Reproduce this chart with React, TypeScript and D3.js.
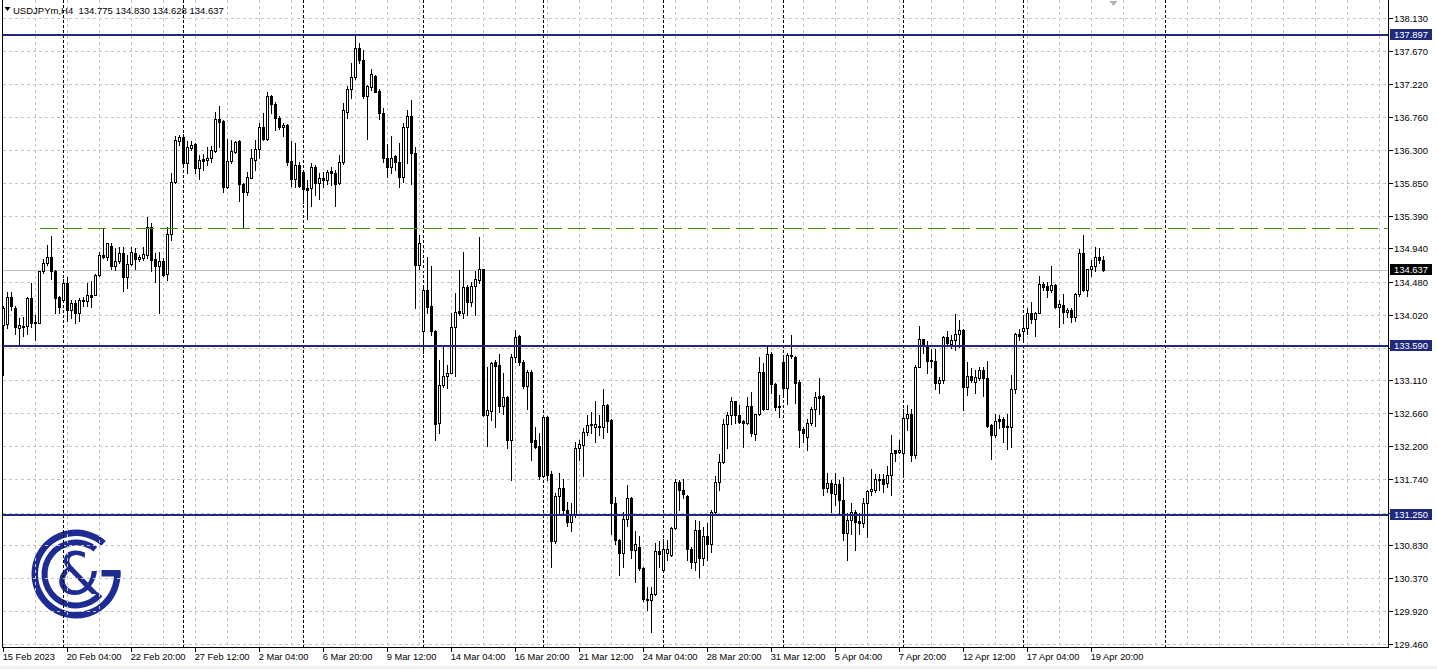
import React from 'react';
import * as d3 from 'd3';

// USDJPYm H4 candles, 15 Feb 2023 12:00 .. 20 Apr 2023 08:00
const opens = [
  133.88, 133.89, 134.27, 134.12, 133.83, 133.87, 133.86, 134.25, 133.92, 133.91,
  134.62, 134.73, 134.82, 134.62, 134.26, 134.23, 134.46, 134.09, 134.18, 134.04,
  134.22, 134.21, 134.29, 134.30, 134.57, 134.85, 134.82, 134.97, 134.69, 134.76,
  134.88, 134.54, 134.72, 134.87, 134.79, 134.81, 134.85, 135.24, 134.79, 134.69,
  134.76, 134.58, 135.14, 135.86, 136.43, 136.48, 136.12, 136.33, 136.38, 136.05,
  136.18, 136.16, 136.19, 136.29, 136.73, 136.70, 135.79, 136.15, 136.28, 136.42,
  135.83, 135.72, 135.92, 136.16, 136.31, 136.62, 136.45, 137.05, 136.94, 136.75,
  136.62, 136.65, 136.15, 135.90, 136.09, 136.00, 135.77, 135.77, 136.07, 135.85,
  135.92, 135.89, 136.01, 135.98, 135.84, 136.13, 136.83, 137.14, 137.31, 137.71,
  137.55, 137.05, 137.18, 137.33, 137.12, 136.81, 136.19, 136.07, 136.22, 136.13,
  135.93, 136.62, 136.77, 136.26, 134.71, 133.80, 134.36, 134.14, 133.79, 132.52,
  133.05, 133.17, 133.22, 133.85, 134.07, 134.04, 134.40, 134.19, 134.42, 134.50,
  134.65, 132.63, 132.69, 133.36, 133.32, 132.75, 132.88, 132.29, 133.43, 133.72,
  133.37, 133.03, 133.23, 132.28, 132.20, 131.79, 132.61, 131.81, 130.88, 131.51,
  131.62, 131.31, 131.15, 131.25, 132.17, 132.22, 132.39, 132.49, 132.47, 132.48,
  132.47, 132.77, 132.56, 131.41, 130.90, 130.72, 131.19, 131.48, 130.76, 130.80,
  130.51, 130.09, 130.07, 130.15, 130.75, 130.49, 130.72, 130.69, 131.06, 131.71,
  131.59, 131.51, 130.78, 130.60, 131.04, 130.65, 130.95, 130.84, 131.29, 131.71,
  131.98, 132.51, 132.63, 132.82, 132.63, 132.55, 132.52, 132.76, 132.37, 132.64,
  133.23, 132.72, 133.48, 133.06, 132.76, 133.36, 133.01, 133.45, 133.44, 133.09,
  132.44, 132.33, 132.52, 132.72, 132.89, 132.89, 131.62, 131.69, 131.54, 131.68,
  131.46, 131.00, 131.18, 131.29, 131.17, 131.14, 131.41, 131.58, 131.59, 131.75,
  131.74, 131.69, 131.80, 132.14, 132.12, 132.11, 132.59, 132.64, 132.08, 133.30,
  133.68, 133.59, 133.38, 133.38, 133.08, 133.12, 133.71, 133.62, 133.67, 133.75,
  133.81, 133.02, 133.17, 133.09, 133.14, 133.25, 133.14, 132.49, 132.35, 132.57,
  132.57, 132.48, 132.47, 132.99, 133.76, 133.79, 133.83, 134.04, 133.96, 134.05,
  134.45, 134.42, 134.36, 134.43, 134.13, 134.15, 134.06, 134.09, 133.99, 134.31,
  134.88, 134.36, 134.65, 134.69, 134.82, 134.775,
];

const highs = [
  134.14, 134.34, 134.34, 134.14, 133.97, 133.99, 134.26, 134.46, 134.02, 134.63,
  134.79, 134.99, 135.11, 134.64, 134.28, 134.51, 134.54, 134.22, 134.22, 134.25,
  134.26, 134.46, 134.49, 134.58, 134.89, 135.22, 135.02, 135.01, 134.94, 134.96,
  134.96, 134.85, 134.96, 134.94, 134.85, 134.96, 135.38, 135.29, 134.87, 134.89,
  134.80, 135.24, 135.98, 136.49, 136.51, 136.52, 136.43, 136.42, 136.40, 136.23,
  136.25, 136.35, 136.36, 136.83, 136.91, 136.72, 136.46, 136.44, 136.43, 136.44,
  135.84, 136.00, 136.31, 136.44, 136.67, 136.81, 137.10, 137.06, 136.97, 136.77,
  136.67, 136.66, 136.42, 136.40, 136.14, 136.02, 135.89, 136.12, 136.09, 135.98,
  136.00, 136.03, 136.06, 136.02, 136.23, 136.95, 137.19, 137.50, 137.89, 137.78,
  137.68, 137.20, 137.43, 137.34, 137.14, 136.88, 136.39, 136.49, 136.23, 136.40,
  136.67, 136.86, 136.99, 136.35, 135.12, 134.39, 134.82, 134.69, 133.81, 133.39,
  133.60, 133.32, 134.04, 134.32, 134.64, 134.89, 134.43, 134.48, 134.62, 135.10,
  134.66, 133.30, 133.37, 133.39, 133.48, 133.22, 132.89, 133.48, 133.81, 133.74,
  133.39, 133.25, 133.26, 132.47, 132.38, 132.63, 132.62, 131.85, 131.55, 131.83,
  131.74, 131.42, 131.41, 132.26, 132.28, 132.45, 132.63, 132.68, 132.82, 132.63,
  132.99, 132.79, 132.57, 131.50, 130.92, 131.29, 131.66, 131.50, 131.02, 130.95,
  130.53, 130.25, 130.25, 130.86, 130.88, 130.92, 130.90, 131.08, 131.75, 131.73,
  131.75, 131.52, 130.81, 131.18, 131.17, 131.08, 131.13, 131.31, 131.79, 132.09,
  132.57, 132.68, 132.88, 132.83, 132.77, 132.56, 132.88, 132.95, 132.65, 133.44,
  133.35, 133.60, 133.51, 133.08, 132.91, 133.42, 133.49, 133.74, 133.45, 133.12,
  132.47, 132.58, 132.74, 132.95, 133.15, 132.91, 131.83, 131.73, 131.83, 131.73,
  131.77, 131.27, 131.41, 131.31, 131.28, 131.48, 131.59, 131.89, 131.82, 131.82,
  131.81, 131.92, 132.35, 132.15, 132.28, 132.72, 132.77, 132.72, 133.32, 133.86,
  133.69, 133.65, 133.55, 133.55, 133.16, 133.72, 133.79, 133.74, 134.03, 133.95,
  133.82, 133.37, 133.28, 133.25, 133.30, 133.30, 133.38, 132.51, 132.65, 132.63,
  132.61, 132.65, 133.19, 133.77, 133.82, 134.02, 134.12, 134.20, 134.06, 134.56,
  134.48, 134.48, 134.70, 134.45, 134.23, 134.31, 134.12, 134.12, 134.32, 134.93,
  135.12, 134.66, 134.78, 134.96, 134.94, 134.83,
];

const lows = [
  133.19, 133.83, 134.09, 133.76, 133.59, 133.72, 133.75, 133.85, 133.67, 133.90,
  134.60, 134.71, 134.52, 134.05, 134.05, 134.22, 133.94, 133.98, 133.90, 133.94,
  134.14, 134.14, 134.13, 134.29, 134.56, 134.80, 134.78, 134.66, 134.64, 134.73,
  134.35, 134.39, 134.71, 134.66, 134.76, 134.78, 134.80, 134.62, 134.48, 134.04,
  134.55, 134.50, 135.06, 135.85, 136.37, 136.06, 135.99, 136.30, 135.98, 135.90,
  136.03, 136.09, 136.14, 136.28, 136.35, 135.72, 135.77, 136.12, 136.26, 135.59,
  135.24, 135.68, 135.91, 136.02, 136.19, 136.44, 136.44, 136.81, 136.58, 136.59,
  136.49, 136.09, 135.80, 135.79, 135.79, 135.57, 135.35, 135.52, 135.68, 135.63,
  135.79, 135.83, 135.82, 135.52, 135.83, 136.11, 136.75, 137.02, 137.28, 137.50,
  137.02, 136.46, 137.13, 137.10, 136.73, 136.14, 135.93, 135.98, 136.02, 135.79,
  135.86, 136.12, 135.83, 134.12, 134.65, 133.49, 134.04, 133.74, 132.29, 132.38,
  133.02, 133.00, 133.21, 133.17, 134.02, 133.97, 134.02, 134.14, 134.02, 134.46,
  132.62, 132.20, 132.56, 132.47, 132.68, 132.65, 132.17, 131.73, 133.36, 133.32,
  133.00, 132.72, 132.01, 132.17, 131.75, 131.77, 131.73, 130.52, 130.86, 131.27,
  131.25, 131.09, 131.02, 131.22, 132.01, 131.78, 132.35, 132.38, 132.26, 132.35,
  132.31, 132.40, 130.99, 130.85, 130.42, 130.53, 131.09, 130.65, 130.32, 130.48,
  130.05, 129.93, 129.63, 130.14, 130.53, 130.48, 130.62, 130.68, 131.05, 131.32,
  131.48, 130.62, 130.51, 130.48, 130.39, 130.55, 130.62, 130.74, 131.28, 131.59,
  131.96, 132.18, 132.51, 132.52, 132.52, 132.19, 132.51, 132.34, 132.28, 132.63,
  132.70, 132.71, 132.94, 132.70, 132.60, 132.90, 132.78, 133.42, 132.80, 132.19,
  132.26, 132.15, 132.49, 132.48, 132.65, 131.52, 131.57, 131.29, 131.39, 131.25,
  130.90, 130.62, 130.99, 130.76, 130.99, 131.08, 130.94, 131.52, 131.56, 131.59,
  131.56, 131.64, 131.52, 131.99, 132.10, 131.80, 132.43, 131.99, 132.03, 133.29,
  133.49, 133.22, 133.29, 132.99, 132.94, 133.07, 133.59, 133.56, 133.53, 133.58,
  132.70, 132.91, 133.09, 132.93, 133.12, 132.89, 132.47, 132.02, 132.33, 132.45,
  132.26, 132.16, 132.19, 132.93, 133.67, 133.67, 133.76, 133.90, 133.72, 134.04,
  134.36, 134.26, 134.34, 134.12, 133.85, 133.90, 133.99, 133.92, 133.94, 134.28,
  134.35, 134.28, 134.56, 134.62, 134.74, 134.628,
];

const closes = [
  134.12, 134.27, 134.14, 133.85, 133.88, 133.85, 134.25, 133.90, 133.90, 134.62,
  134.73, 134.82, 134.62, 134.25, 134.13, 134.46, 134.09, 134.18, 134.04, 134.22,
  134.21, 134.29, 134.27, 134.57, 134.85, 134.82, 135.01, 134.69, 134.76, 134.88,
  134.54, 134.72, 134.89, 134.79, 134.82, 134.86, 135.24, 134.78, 134.69, 134.76,
  134.57, 135.14, 135.86, 136.44, 136.48, 136.12, 136.34, 136.37, 136.05, 136.17,
  136.15, 136.19, 136.30, 136.73, 136.69, 135.79, 136.15, 136.29, 136.41, 135.83,
  135.72, 135.93, 136.19, 136.31, 136.62, 136.45, 137.05, 136.94, 136.75, 136.62,
  136.65, 136.14, 135.90, 136.09, 135.81, 135.76, 135.75, 136.07, 135.85, 135.91,
  135.89, 136.00, 135.98, 135.83, 136.13, 136.86, 137.14, 137.31, 137.71, 137.55,
  137.05, 137.19, 137.35, 137.11, 136.81, 136.19, 136.07, 136.19, 136.13, 135.93,
  136.62, 136.77, 136.26, 134.71, 135.02, 134.36, 134.13, 133.79, 132.51, 133.05,
  133.17, 133.22, 133.85, 134.06, 134.04, 134.40, 134.19, 134.42, 134.52, 134.65,
  132.63, 132.70, 133.35, 133.31, 132.75, 132.88, 132.29, 133.43, 133.71, 133.37,
  133.03, 133.23, 132.26, 132.19, 131.79, 132.61, 131.80, 130.88, 131.51, 131.62,
  131.31, 131.15, 131.25, 132.17, 132.23, 132.39, 132.49, 132.51, 132.51, 132.46,
  132.77, 132.55, 131.41, 130.90, 130.72, 131.19, 131.48, 130.76, 130.84, 130.51,
  130.09, 130.07, 130.15, 130.75, 130.71, 130.77, 130.78, 131.06, 131.71, 131.59,
  131.54, 130.78, 130.60, 131.04, 130.65, 130.95, 130.84, 131.29, 131.71, 131.98,
  132.51, 132.63, 132.82, 132.63, 132.54, 132.52, 132.76, 132.38, 132.64, 133.23,
  132.72, 133.48, 133.06, 132.74, 132.74, 133.01, 133.46, 133.46, 133.08, 132.43,
  132.38, 132.52, 132.72, 132.88, 132.87, 131.62, 131.69, 131.55, 131.68, 131.46,
  131.00, 131.18, 131.29, 131.15, 131.14, 131.41, 131.58, 131.60, 131.75, 131.73,
  131.68, 131.80, 132.11, 132.11, 132.14, 132.59, 132.64, 132.08, 133.30, 133.68,
  133.59, 133.38, 133.39, 133.08, 133.12, 133.71, 133.63, 133.67, 133.75, 133.81,
  133.02, 133.17, 133.11, 133.16, 133.25, 133.14, 132.48, 132.35, 132.55, 132.55,
  132.46, 132.46, 132.99, 133.76, 133.72, 133.83, 134.04, 133.96, 134.05, 134.45,
  134.41, 134.36, 134.43, 134.13, 134.17, 134.06, 134.09, 133.99, 134.31, 134.88,
  134.36, 134.65, 134.69, 134.82, 134.775, 134.637,
];

const priceTicks = [
  138.13, 137.67, 137.22, 136.76, 136.3, 135.85, 135.39, 134.94, 134.48, 134.02,
  133.56, 133.11, 132.66, 132.2, 131.74, 131.28, 130.83, 130.37, 129.92, 129.46,
];

// one label every 16 bars, starting at bar 0
const timeLabels = [
  '15 Feb 2023', '20 Feb 04:00', '22 Feb 20:00', '27 Feb 12:00', '2 Mar 04:00',
  '6 Mar 20:00', '9 Mar 12:00', '14 Mar 04:00', '16 Mar 20:00', '21 Mar 12:00',
  '24 Mar 04:00', '28 Mar 20:00', '31 Mar 12:00', '5 Apr 04:00', '7 Apr 20:00',
  '12 Apr 12:00', '17 Apr 04:00', '19 Apr 20:00',
];

const weekSeparators = [15, 45, 75, 105, 135, 165, 195, 225, 255, 290.5];
const levelLines = [137.897, 133.59, 131.25];
const dashedLevel = 135.22;
const dashedFromBar = 9;
const bid = 134.637;
const header = 'USDJPYm,H4  134.775 134.830 134.628 134.637';

const FONT = '"Liberation Sans", Arial, sans-serif';
const NAVY = '#1f2a7c';
const LOGO = '#1e2b92';
const GRID = '#c4c4c4';

export default function App() {
  const width = 1437, height = 669;
  const right = 1388.5, bottom = 647.5;
  const n = closes.length;

  const x = d3.scaleLinear().domain([0, n - 1]).range([3.5, 3.5 + 4 * (n - 1)]);
  const y = d3.scaleLinear().domain([129.46, 138.13]).range([644, 18]);
  const sy = (v: number) => Math.round(y(v)) + 0.5;

  const gridBars = d3.range(8, 400, 8).filter(b => x(b) < right - 4);
  const labelBars = timeLabels.map((_, i) => i * 16);
  // tick labels hidden behind a level box are not printed
  const boxed = [...levelLines, bid];
  const shownTicks = priceTicks.filter(t => boxed.every(b => Math.abs(y(t) - y(b)) > 9));

  const rad = (d: number) => (d * Math.PI) / 180;
  const arc = d3.arc<any>();
  const outerG = arc({ innerRadius: 38, outerRadius: 44.5, startAngle: rad(87), endAngle: rad(402) });
  const innerC = arc({ innerRadius: 28.5, outerRadius: 34.5, startAngle: rad(130), endAngle: rad(398) });

  const candles = closes.map((c, i) => {
    const o = opens[i];
    const cx = x(i);
    const yHi = Math.round(y(highs[i]));
    const yLo = Math.round(y(lows[i]));
    const yTop = Math.round(y(Math.max(o, c)));
    const yBot = Math.round(y(Math.min(o, c)));
    const h = yBot - yTop;
    let body;
    if (h < 1) {
      body = <line x1={cx - 1.5} x2={cx + 1.5} y1={yTop + 0.5} y2={yTop + 0.5} stroke="#000" />;
    } else if (c >= o) {
      body = <rect x={cx - 1} y={yTop + 0.5} width={2} height={h} fill="#fff" stroke="#000" />;
    } else {
      body = <rect x={cx - 1.5} y={yTop} width={3} height={h + 1} fill="#000" />;
    }
    return (
      <g key={i}>
        <line x1={cx} x2={cx} y1={yHi} y2={yLo + 1} stroke="#000" />
        {body}
      </g>
    );
  });

  return (
    <svg width={width} height={height} style={{ position: 'absolute', left: 0, top: 0, background: '#fff' }}
      fontFamily={FONT} shapeRendering="crispEdges">
      <rect x={0} y={0} width={width} height={height} fill="#fff" />
      <rect x={0} y={666} width={width} height={3} fill="#f0f0f0" />

      {/* logo sits under the chart */}
      <g transform="translate(76,574)" fill={LOGO} shapeRendering="geometricPrecision">
        <path d={outerG || ''} />
        <path d={innerC || ''} />
        <rect x={25.5} y={-4} width={19} height={6.5} />
        <text x={2} y={0} fontSize={58} fontFamily='"DejaVu Sans", sans-serif' textAnchor="middle"
          dominantBaseline="central">&amp;</text>
      </g>

      {/* grid */}
      {priceTicks.map(t => (
        <line key={'h' + t} x1={3} x2={right} y1={sy(t)} y2={sy(t)} stroke={GRID} strokeDasharray="3,3" />
      ))}
      {gridBars.map(b => (
        <line key={'v' + b} x1={x(b)} x2={x(b)} y1={0} y2={bottom} stroke={GRID} strokeDasharray="3,3" />
      ))}
      {weekSeparators.map(b => (
        <line key={'w' + b} x1={Math.round(x(b) - 0.5) + 0.5} x2={Math.round(x(b) - 0.5) + 0.5} y1={0} y2={bottom}
          stroke="#000" strokeDasharray="3,2" />
      ))}

      <line x1={3} x2={right} y1={sy(bid)} y2={sy(bid)} stroke="#c0c0c0" />

      {candles}

      <line x1={x(dashedFromBar)} x2={right} y1={sy(dashedLevel)} y2={sy(dashedLevel)}
        stroke="#3f8f00" strokeDasharray="18,6" />
      {levelLines.map(v => (
        <line key={'l' + v} x1={2} x2={right} y1={Math.round(y(v))} y2={Math.round(y(v))} stroke={NAVY} strokeWidth={2} />
      ))}

      {/* frame */}
      <line x1={2.5} x2={2.5} y1={0} y2={bottom} stroke="#000" />
      <line x1={2} x2={right + 0.5} y1={bottom} y2={bottom} stroke="#000" />
      <line x1={right} x2={right} y1={0} y2={bottom + 0.5} stroke="#000" />

      {/* price axis */}
      {priceTicks.map(t => (
        <line key={'k' + t} x1={right} x2={right + 4} y1={sy(t)} y2={sy(t)} stroke="#000" />
      ))}
      {shownTicks.map(t => (
        <text key={'p' + t} x={1394} y={sy(t) + 3.5} fontSize={9.4} fill="#000">{t.toFixed(3)}</text>
      ))}
      {levelLines.map(v => (
        <g key={'b' + v}>
          <rect x={1390} y={Math.round(y(v)) - 6} width={42} height={11} fill={NAVY} />
          <text x={1394} y={Math.round(y(v)) + 3} fontSize={9.4} fill="#fff">{v.toFixed(3)}</text>
        </g>
      ))}
      <rect x={1390} y={Math.round(y(bid)) - 6} width={42} height={11} fill="#000" />
      <text x={1394} y={Math.round(y(bid)) + 3} fontSize={9.4} fill="#fff">{bid.toFixed(3)}</text>

      {/* time axis */}
      {labelBars.map((b, i) => (
        <g key={'t' + b}>
          <line x1={x(b)} x2={x(b)} y1={bottom} y2={bottom + 4} stroke="#000" />
          <text x={x(b) - 0.8} y={660} fontSize={9.3} fill="#000">{timeLabels[i]}</text>
        </g>
      ))}

      {/* header + shift marker */}
      <polygon points="4.5,7 10.5,7 7.5,11" fill="#000" shapeRendering="geometricPrecision" />
      <text x={13} y={13.5} fontSize={9.5} fill="#000" style={{ whiteSpace: 'pre' }}>{header}</text>
      <polygon points={`${x(n + 1.5) - 4},1 ${x(n + 1.5) + 4},1 ${x(n + 1.5)},6`} fill="#b0b0b0"
        shapeRendering="geometricPrecision" />
    </svg>
  );
}
